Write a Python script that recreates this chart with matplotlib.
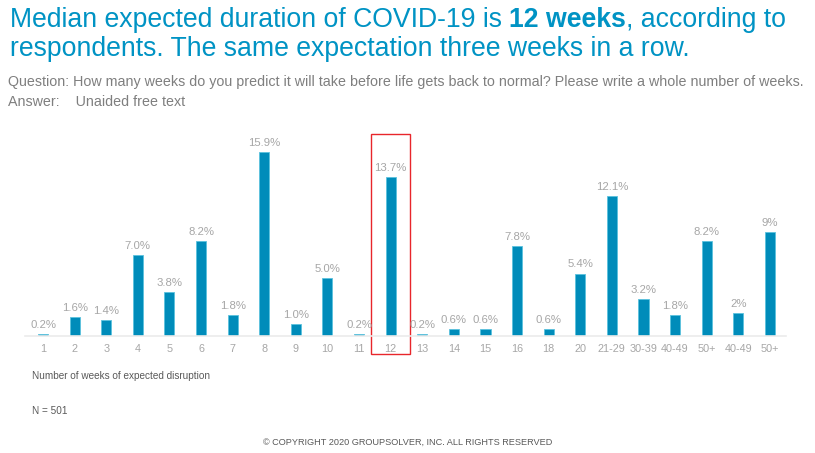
import matplotlib.pyplot as plt
from matplotlib.patches import Rectangle

plt.rcParams['font.family'] = ['Liberation Sans', 'DejaVu Sans']

categories = ["1", "2", "3", "4", "5", "6", "7", "8", "9", "10", "11", "12",
              "13", "14", "15", "16", "18", "20", "21-29", "30-39", "40-49",
              "50+", "40-49", "50+"]
values = [0.2, 1.6, 1.4, 7.0, 3.8, 8.2, 1.8, 15.9, 1.0, 5.0, 0.2, 13.7,
          0.2, 0.6, 0.6, 7.8, 0.6, 5.4, 12.1, 3.2, 1.8, 8.2, 2, 9]
value_labels = ["0.2%", "1.6%", "1.4%", "7.0%", "3.8%", "8.2%", "1.8%", "15.9%",
                "1.0%", "5.0%", "0.2%", "13.7%", "0.2%", "0.6%", "0.6%", "7.8%",
                "0.6%", "5.4%", "12.1%", "3.2%", "1.8%", "8.2%", "2%", "9%"]
highlight = "12"

blue = "#008CBA"
title_blue = "#0093C4"
gray = "#A6A6A6"

fig = plt.figure(figsize=(8.15, 4.53), dpi=100)
ax = fig.add_axes([0.0307, 0.2583, 0.9333, 0.4547])

x = list(range(len(categories)))
ax.bar(x, values, width=0.32, color=blue, edgecolor="#5BC2DE", linewidth=0.6)

for xi, v, lab in zip(x, values, value_labels):
    ax.text(xi, v + 0.35, lab, ha="center", va="bottom", fontsize=8.2, color=gray)

ax.set_xlim(-0.57, 23.5)
ax.set_ylim(0, 17.8)
ax.set_xticks(x)
ax.set_xticklabels(categories, fontsize=7.8, color=gray)
ax.tick_params(axis="x", length=0, pad=6)
ax.set_yticks([])
for s in ["top", "right", "left"]:
    ax.spines[s].set_visible(False)
ax.spines["bottom"].set_color("#EBEBEB")
ax.spines["bottom"].set_linewidth(1.2)

# red box round the median category
hi = categories.index(highlight)
box = Rectangle((hi - 0.62, -1.56), 1.24, 19.0, fill=False, edgecolor="#E8262B",
                linewidth=1.0, clip_on=False)
ax.add_patch(box)

ty1 = 0.955
tsize = 19.2
t1 = fig.text(0.012, ty1, "Median expected duration of COVID-19 is ", fontsize=tsize,
              color=title_blue, va="center")
fig.canvas.draw()
bb = t1.get_window_extent()
t2 = fig.text(bb.x1 / fig.bbox.width, ty1, "12 weeks", fontsize=tsize, color=title_blue,
              va="center", fontweight="bold")
fig.canvas.draw()
bb2 = t2.get_window_extent()
fig.text(bb2.x1 / fig.bbox.width, ty1, ", according to", fontsize=tsize,
         color=title_blue, va="center")
fig.text(0.012, 0.892, "respondents. The same expectation three weeks in a row.",
         fontsize=tsize, color=title_blue, va="center")

fig.text(0.010, 0.819, "Question: How many weeks do you predict it will take before life "
         "gets back to normal? Please write a whole number of weeks.",
         fontsize=10.3, color="#7F7F7F", va="center")
fig.text(0.010, 0.774, "Answer:    Unaided free text", fontsize=10.3,
         color="#7F7F7F", va="center")

fig.text(0.039, 0.170, "Number of weeks of expected disruption", fontsize=7.2,
         color="#595959", va="center")
fig.text(0.039, 0.093, "N = 501", fontsize=7.2, color="#595959", va="center")
fig.text(0.5, 0.024, "© COPYRIGHT 2020 GROUPSOLVER, INC. ALL RIGHTS RESERVED",
         fontsize=6.6, color="#595959", va="center", ha="center")

fig.savefig("out.png", dpi=100)
